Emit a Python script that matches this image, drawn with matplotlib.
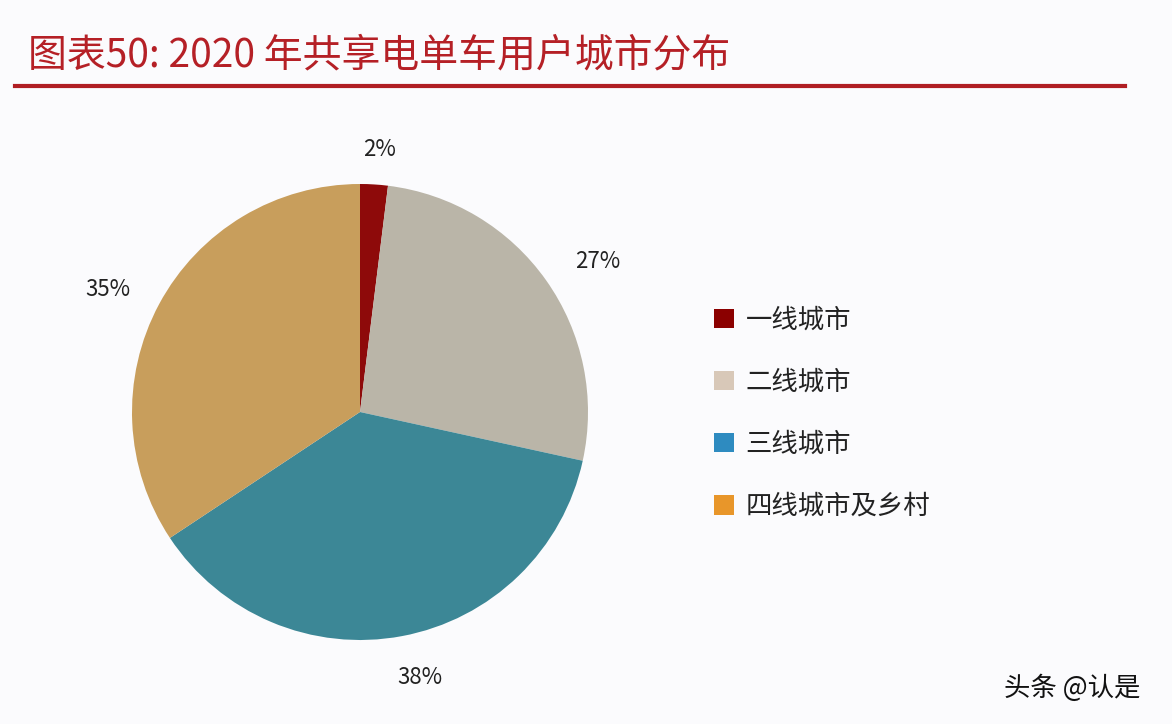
import matplotlib
matplotlib.use("Agg")
import matplotlib.pyplot as plt
from matplotlib.patches import Patch
from matplotlib.lines import Line2D

plt.rcParams['font.family'] = ['Noto Sans CJK SC', 'DejaVu Sans']

title = "图表50: 2020 年共享电单车用户城市分布"
categories = ["一线城市", "二线城市", "三线城市", "四线城市及乡村"]
values = [2, 27, 38, 35]
value_labels = ["2%", "27%", "38%", "35%"]
watermark = "头条 @认是"

pie_colors = ["#8E0A0A", "#BAB5A8", "#3C8796", "#C89E5C"]
legend_colors = ["#8B0000", "#D8C8B8", "#2E8BC0", "#E8962A"]

fig = plt.figure(figsize=(11.72, 7.24), dpi=100)
fig.patch.set_facecolor("#FBFBFD")

W, H = 1172, 724
# pie axes: center (360,412), radius 228 px
r = 228
cx, cy = 360, 412
ax = fig.add_axes([(cx - r) / W, 1 - (cy + r) / H, 2 * r / W, 2 * r / H])
ax.set_facecolor("none")
wedges, _ = ax.pie(values, colors=pie_colors, startangle=90, counterclock=False,
                   radius=1.0, wedgeprops=dict(linewidth=0))
ax.set_xlim(-1, 1)
ax.set_ylim(-1, 1)
ax.set_aspect("equal")
ax.axis("off")

# value labels (pixel positions)
label_pos = [(380, 150), (598, 262), (420, 677), (108, 290)]
for (x, y), t in zip(label_pos, value_labels):
    fig.text(x / W, 1 - y / H, t, ha="center", va="center", fontsize=16,
             color="#222222")

# title and rule
fig.text(28 / W, 1 - 55 / H, title, ha="left", va="center", fontsize=28,
         color="#B52026", style="italic")
fig.add_artist(Line2D([15 / W, 1125 / W], [1 - 86 / H, 1 - 86 / H],
                      color="#B01E23", linewidth=3))

# legend
handles = [Patch(facecolor=c, edgecolor="none") for c in legend_colors]
leg = fig.legend(handles, categories, loc="upper left",
                 bbox_to_anchor=(690 / W, 1 - 283 / H), frameon=False,
                 fontsize=19, handlelength=0.75, handleheight=0.75,
                 handletextpad=0.45, labelspacing=1.33)
for t in leg.get_texts():
    t.set_color("#222222")

fig.text(1072 / W, 1 - 688 / H, watermark, ha="center", va="center",
         fontsize=19, color="#111111")

fig.savefig("out.png", dpi=100, facecolor=fig.get_facecolor())
